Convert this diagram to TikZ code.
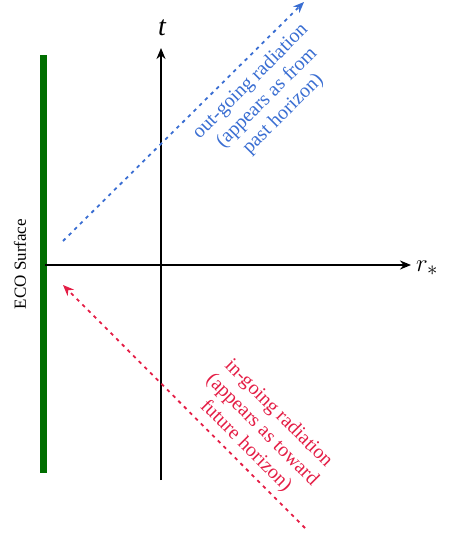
\documentclass[tikz,border=0pt]{standalone}
\usepackage{fontspec}
\setmainfont{Liberation Serif}
\usetikzlibrary{arrows.meta}
\definecolor{outblue}{RGB}{58,110,210}
\definecolor{inred}{RGB}{228,30,70}
\definecolor{ecogreen}{RGB}{0,110,0}
\begin{document}
\begin{tikzpicture}[x=1pt,y=-1pt,
  axis/.style={line width=1.8pt,-{Stealth[length=11pt,width=9pt]}},
  ray/.style={line width=1.8pt,dash pattern=on 3.5pt off 4.5pt,-{Stealth[length=11pt,width=9pt]}},
  lbl/.style={font=\fontsize{20}{23}\selectfont,align=center,inner sep=0pt}]
\useasboundingbox (0,0) rectangle (449,535);
\fill[ecogreen] (39.5,55) rectangle (47,473);
\node[rotate=90,font=\fontsize{17}{20}\selectfont,inner sep=0pt] (eco) at (20,264) {ECO Surface};
\coordinate (xs) at (45,265);
\coordinate (xe) at (411,265);
\coordinate (ys) at (161,480);
\coordinate (ye) at (161,48);
\draw[axis] (xs) -- (xe);
\draw[axis] (ys) -- (ye);
\node[font=\fontsize{28}{32}\selectfont\itshape,inner sep=0pt] (t) at (162,28) {t};
\node[font=\fontsize{28}{32}\selectfont,inner sep=0pt,anchor=west] (r) at (416,268) {$r_*$};
\coordinate (bs) at (63,241);
\coordinate (be) at (304,2);
\draw[ray,outblue] (bs) -- (be);
\coordinate (rs) at (305,528);
\coordinate (re) at (63,285);
\draw[ray,inred] (rs) -- (re);
\node[lbl,text=outblue,rotate=45] (bt) at (267,98) {out-going radiation\\(appears as from\\past horizon)};
\node[lbl,text=inred,rotate=-45] (rt) at (262,430) {in-going radiation\\(appears as toward\\future horizon)};
\end{tikzpicture}
\end{document}
